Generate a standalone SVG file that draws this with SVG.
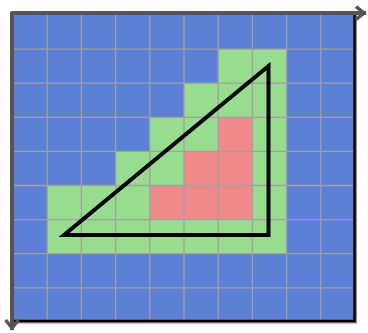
<svg xmlns="http://www.w3.org/2000/svg" width="368" height="333" viewBox="0 0 368 333">
<defs>
<style>
.b{fill:#5B80D6}
.g{fill:#98DC8F}
.r{fill:#F08A8A}
.grid line{stroke:#A0A0A0;stroke-width:1.3}
.axis{stroke:#555;stroke-width:4;fill:none;stroke-linecap:square}
</style>
<marker id="ah" viewBox="0 0 10 10" refX="8" refY="5" markerWidth="4" markerHeight="4" orient="auto" markerUnits="strokeWidth">
<polyline points="3,1 8,5 3,9" fill="none" stroke="#555" stroke-width="2.2" stroke-linejoin="miter"/>
</marker>
</defs>
<g id="background">
<rect class="b" x="13" y="15" width="342" height="307"/>
</g>
<g id="cells">
<rect class="g" x="218.2" y="49.1" width="68.4" height="34.1"/>
<rect class="g" x="184" y="83.2" width="102.6" height="34.1"/>
<rect class="g" x="149.8" y="117.3" width="136.8" height="34.1"/>
<rect class="g" x="115.6" y="151.4" width="171" height="34.1"/>
<rect class="g" x="47.2" y="185.5" width="239.4" height="68.2"/>
<rect class="r" x="218.2" y="117.3" width="34.2" height="34.1"/>
<rect class="r" x="184" y="151.4" width="68.4" height="34.1"/>
<rect class="r" x="149.8" y="185.5" width="102.6" height="34.1"/>
</g>
<g class="grid" id="grid">
<line x1="47.2" y1="15" x2="47.2" y2="322"/>
<line x1="81.4" y1="15" x2="81.4" y2="322"/>
<line x1="115.6" y1="15" x2="115.6" y2="322"/>
<line x1="149.8" y1="15" x2="149.8" y2="322"/>
<line x1="184" y1="15" x2="184" y2="322"/>
<line x1="218.2" y1="15" x2="218.2" y2="322"/>
<line x1="252.4" y1="15" x2="252.4" y2="322"/>
<line x1="286.6" y1="15" x2="286.6" y2="322"/>
<line x1="320.8" y1="15" x2="320.8" y2="322"/>
<line x1="13" y1="49.1" x2="355" y2="49.1"/>
<line x1="13" y1="83.2" x2="355" y2="83.2"/>
<line x1="13" y1="117.3" x2="355" y2="117.3"/>
<line x1="13" y1="151.4" x2="355" y2="151.4"/>
<line x1="13" y1="185.5" x2="355" y2="185.5"/>
<line x1="13" y1="219.6" x2="355" y2="219.6"/>
<line x1="13" y1="253.7" x2="355" y2="253.7"/>
<line x1="13" y1="287.8" x2="355" y2="287.8"/>
</g>
<g id="border">
<polyline points="355,15 355,321.5 13,321.5" fill="none" stroke="#888" stroke-width="4"/>
<polyline points="354.5,15 354.5,321 13,321" fill="none" stroke="#000" stroke-width="2.5"/>
</g>
<g id="triangle">
<polygon points="64,235 268.5,66 268.5,235" fill="none" stroke="#000" stroke-width="4" stroke-linejoin="miter"/>
</g>
<g id="axes">
<polyline class="axis" points="12,327 12,13 363,13" stroke-linejoin="round"/>
<line x1="362" y1="13" x2="364" y2="13" class="axis" marker-end="url(#ah)"/>
<line x1="12" y1="326" x2="12" y2="328" class="axis" marker-end="url(#ah)"/>
</g>
</svg>
